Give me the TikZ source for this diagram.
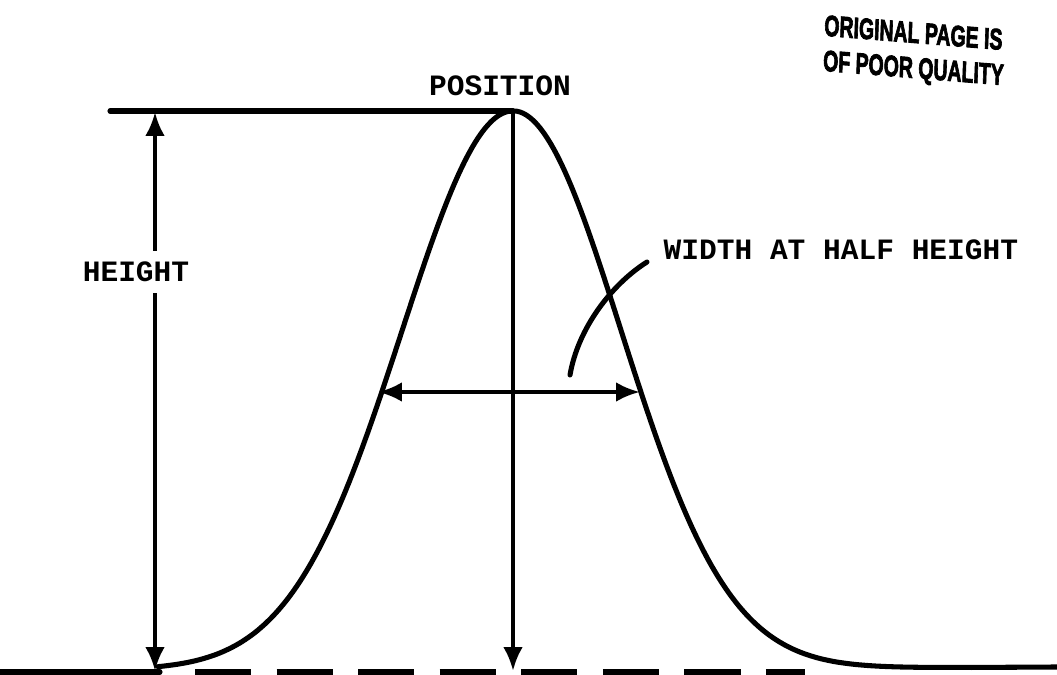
\documentclass[tikz,border=0pt]{standalone}
\usepackage{fontspec}
\newfontfamily\tw{Liberation Mono}
\newfontfamily\stampfont[FakeBold=3]{Liberation Sans}
\usetikzlibrary{arrows.meta}
\begin{document}
\begin{tikzpicture}[x=0.025cm,y=-0.025cm,
  heavy/.style={line width=3.6pt, line cap=round, line join=round},
  dimline/.style={line width=3pt},
  lbl/.style={font=\tw\bfseries\fontsize{21}{21}\selectfont, inner sep=1pt},
  stamp/.style={font=\stampfont\bfseries\fontsize{21}{25}\selectfont, align=left, inner sep=0pt, xscale=0.66, rotate=-3}]
\useasboundingbox (0,0) rectangle (1057,675);
% coordinates
\coordinate (L0) at (0,672);
\coordinate (Ls) at (160,672);
\coordinate (Ld) at (195,672);
\coordinate (Rd) at (805,672);
\coordinate (T0) at (110,111);
\coordinate (P) at (513,111);
\coordinate (htop) at (155,112);
\coordinate (hbot) at (155,671);
\coordinate (pbot) at (513,671);
\coordinate (wl) at (378,392);
\coordinate (wr) at (640,392);
\coordinate (lead1) at (647,262);
\coordinate (lead2) at (570,375);
% baseline
\draw[heavy] (L0) -- (Ls);
\draw[line width=3.6pt, dash pattern=on 40pt off 18pt] (Ld) -- (Rd);
% top line
\draw[heavy] (T0) -- (P);
% gaussian
\draw[heavy] plot[domain=158:513, samples=140] (\x,{670-559*exp(-0.5*((\x-513)/111)^2)})
  -- plot[domain=513:1057, samples=160] (\x,{670-3*(\x-513)/544-559*exp(-0.5*((\x-513)/108)^2)});
% height arrow
\draw[dimline, {Latex[length=17pt,width=14pt]}-{Latex[length=17pt,width=14pt]}] (htop) -- (hbot);
\node[lbl, fill=white, inner ysep=8pt] (height) at (136,272) {HEIGHT};
% position arrow
\draw[dimline, -{Latex[length=17pt,width=14pt]}] (P) -- (pbot);
\node[lbl] (position) at (500,86) {POSITION};
% width arrow
\draw[dimline, {Latex[length=17pt,width=14pt]}-{Latex[length=17pt,width=14pt]}] (wl) -- (wr);
\node[lbl, anchor=west] (width) at (662,250) {WIDTH AT HALF HEIGHT};
\draw[heavy] (lead1) .. controls (612,284) and (578,328) .. (lead2);
% stamp
\node[stamp] (stampnote) at (914,53) {ORIGINAL PAGE IS\\OF POOR QUALITY};
\end{tikzpicture}
\end{document}
